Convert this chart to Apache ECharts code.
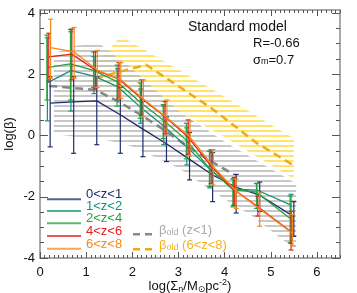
<!DOCTYPE html>
<html><head><meta charset="utf-8">
<script src="https://cdn.jsdelivr.net/npm/echarts@6/dist/echarts.min.js"></script>
<style>html,body{margin:0;padding:0;background:#fff}#c{width:357px;height:293px}</style>
</head><body><div id="c"></div>
<script>
// ---------- data ----------
const zBins = ['0<z<1', '1<z<2', '2<z<4', '4<z<6', '6<z<8'];
const xMajor = [0, 1, 2, 3, 4, 5, 6];
const yMajor = [-4, -2, 0, 2, 4];
const yMinor = [-4, -3.5, -3, -2.5, -2, -1.5, -1, -0.5, 0, 0.5, 1, 1.5, 2, 2.5, 3, 3.5, 4];

const navyX  = [0.22, 0.73, 1.23, 1.74, 2.23, 2.74, 3.24, 3.74, 4.25, 4.76, 5.50];
const navyY  = [1.06, 1.10, 1.13, 0.68, 0.21, -0.27, -0.78, -1.29, -1.69, -1.95, -2.65];
const navyLo = [-0.37, -0.58, -0.30, -0.58, -0.69, -0.85, -1.45, -2.16, -2.53, -2.48, -3.29];
const navyHi = [1.92, 1.92, 1.92, 1.57, 1.11, 0.61, 0.10, -0.56, -1.27, -1.52, -2.16];

const tealX  = [0.16, 0.67, 1.17, 1.68, 2.18, 2.68, 3.18, 3.68, 4.19, 4.70, 5.44];
const tealY  = [1.72, 2.12, 1.94, 1.60, 0.92, 0.31, -0.37, -1.10, -1.75, -1.78, -2.27];
const tealLo = [0.48, 0.80, 1.37, 1.16, 0.40, -0.30, -0.96, -1.71, -2.28, -2.28, -3.53];
const tealHi = [3.19, 3.39, 2.58, 2.18, 1.52, 0.96, 0.25, -0.51, -1.42, -1.56, -1.92];

const greenX  = [0.15, 0.66, 1.16, 1.67, 2.17, 2.67, 3.17, 3.67, 4.18, 4.69, 5.42];
const greenY  = [2.22, 2.34, 2.13, 1.76, 1.09, 0.51, -0.15, -1.07, -1.77, -1.85, -2.71];
const greenLo = [1.16, 1.16, 1.57, 0.96, 0.56, -0.10, -0.76, -1.67, -2.33, -2.38, -3.50];
const greenHi = [3.28, 3.46, 2.73, 2.30, 1.72, 1.01, 0.40, -0.51, -1.42, -1.57, -1.98];

const redX  = [0.19, 0.69, 1.20, 1.71, 2.20, 2.71, 3.21, 3.71, 4.21, 4.72, 5.44];
const redY  = [2.57, 2.66, 2.14, 1.84, 1.21, 0.61, -0.05, -1.01, -1.77, -2.33, -3.14];
const redLo = [1.77, 1.82, 1.54, 1.21, 0.66, 0.05, -0.61, -1.57, -2.28, -2.63, -3.74];
const redHi = [3.34, 3.48, 2.73, 2.38, 1.82, 1.11, 0.51, -0.46, -1.37, -1.98, -2.48];

const orangeX  = [0.23, 0.74, 1.24, 1.75, 2.24, 2.75, 3.25, 3.75, 4.25, 4.76, 5.47];
const orangeY  = [2.87, 2.73, 2.14, 1.82, 1.19, 0.58, -0.05, -1.01, -1.82, -2.40, -3.19];
const orangeLo = [1.87, 1.87, 1.57, 1.21, 0.61, 0.00, -0.66, -1.62, -2.38, -2.96, -3.60];
const orangeHi = [3.80, 3.53, 2.78, 2.38, 1.82, 1.16, 0.46, -0.46, -1.42, -1.88, -2.58];

// beta_old (z<1): dashed line and hatched band
const oldLowX = [0.2, 1.2, 1.7, 2.2, 2.7, 3.2, 3.7, 4.2];
const oldLowY = [1.62, 1.49, 1.11, 0.66, 0.17, -0.36, -0.84, -1.27];
const oldLowBandX  = [0.3, 0.8, 1.3, 2.0, 3.0, 4.0, 4.55, 5.55];
const oldLowBandHi = [2.68, 2.94, 2.99, 2.18, 0.81, -0.20, -0.69, -1.57];
const oldLowBandLo = [0.05, -0.05, -0.10, -0.36, -1.06, -2.08, -2.58, -3.75];

// beta_old (6<z<8)
const oldHighX = [1.2, 2.3, 2.9, 3.7, 4.7, 5.48];
const oldHighY = [1.87, 2.31, 1.71, 0.91, -0.25, -0.96];
const oldHighBandX  = [1.05, 1.75, 2.8, 4.0, 5.5];
const oldHighBandHi = [2.08, 3.24, 2.33, 1.27, -0.10];
const oldHighBandLo = [1.37, 1.52, 0.96, -0.05, -1.42];

// ---------- styling ----------
const FONT = '"Liberation Sans", Arial, "DejaVu Sans", sans-serif';
const cols = ['#1f2c6b', '#169079', '#25a23a', '#e4201c', '#f28a1c'];
const seriesData = [
  [navyX, navyY, navyLo, navyHi],
  [tealX, tealY, tealLo, tealHi],
  [greenX, greenY, greenLo, greenHi],
  [redX, redY, redLo, redHi],
  [orangeX, orangeY, orangeLo, orangeHi]
];

function hatch(color) {
  const c = document.createElement('canvas');
  c.width = 8; c.height = 5;
  const g = c.getContext('2d');
  g.fillStyle = color;
  g.fillRect(0, 0, 8, 2);
  return c;
}

function bandSeries(name, xs, hi, lo, color, z) {
  const data = xs.map((x, i) => [x, lo[i], hi[i]]);
  const pat = hatch(color);
  return {
    type: 'custom', name, silent: true, z, clip: true,
    encode: { x: 0, y: [1, 2] },
    data,
    renderItem: (params, api) => {
      if (params.dataIndex !== 0) return null;
      const pts = [];
      for (let i = 0; i < data.length; i++) pts.push(api.coord([data[i][0], data[i][2]]));
      for (let i = data.length - 1; i >= 0; i--) pts.push(api.coord([data[i][0], data[i][1]]));
      return { type: 'polygon', shape: { points: pts }, style: { fill: { image: pat, repeat: 'repeat' } } };
    }
  };
}

function errSeries(name, xs, lo, hi, color, z) {
  return {
    type: 'custom', name, silent: true, z,
    encode: { x: 0, y: [1, 2] },
    data: xs.map((x, i) => [x, lo[i], hi[i]]),
    renderItem: (params, api) => {
      const x = api.value(0);
      const p1 = api.coord([x, api.value(2)]);
      const p2 = api.coord([x, api.value(1)]);
      const w = 2.5;
      const st = { stroke: color, lineWidth: 1.2 };
      return { type: 'group', children: [
        { type: 'line', shape: { x1: p1[0], y1: p1[1], x2: p2[0], y2: p2[1] }, style: st },
        { type: 'line', shape: { x1: p1[0] - w, y1: p1[1], x2: p1[0] + w, y2: p1[1] }, style: st },
        { type: 'line', shape: { x1: p2[0] - w, y1: p2[1], x2: p2[0] + w, y2: p2[1] }, style: st }
      ] };
    }
  };
}

const series = [
  bandSeries('bandHigh', oldHighBandX, oldHighBandHi, oldHighBandLo, 'rgba(255,222,80,0.85)', 1),
  bandSeries('bandLow', oldLowBandX, oldLowBandHi, oldLowBandLo, 'rgba(190,190,190,0.85)', 2),
  { type: 'line', name: 'oldLow', data: oldLowX.map((x, i) => [x, oldLowY[i]]), symbol: 'none', z: 3,
    lineStyle: { color: '#858585', width: 2.5, type: [8, 5] } },
  { type: 'line', name: 'oldHigh', data: oldHighX.map((x, i) => [x, oldHighY[i]]), symbol: 'none', z: 3,
    lineStyle: { color: '#eeaa1a', width: 2.5, type: [8, 5] } }
];
seriesData.forEach((d, k) => {
  series.push(errSeries(zBins[k] + ' err', d[0], d[2], d[3], cols[k], 5 + k));
  series.push({ type: 'line', name: zBins[k], data: d[0].map((x, i) => [x, d[1][i]]), symbol: 'none', z: 5 + k,
    lineStyle: { color: cols[k], width: 1.3 } });
});

const axLine = { show: true, onZero: false, lineStyle: { color: '#8c8c8c', width: 1.5 } };
const noLine = { show: false, onZero: false };
const tickStyle = { color: '#555', width: 1 };
const baseX = { type: 'value', min: 0, max: 6.5, splitLine: { show: false } };
const baseY = { type: 'value', min: -4, max: 4.1, splitLine: { show: false } };

const option = {
  animation: false,
  grid: { left: 40, right: 17, top: 10, bottom: 35, containLabel: false, outerBoundsMode: 'none' },
  xAxis: [
    Object.assign({}, baseX, { position: 'bottom', interval: 0.1, axisLine: axLine,
      axisTick: { inside: true, length: 3, lineStyle: tickStyle }, axisLabel: { show: false } }),
    Object.assign({}, baseX, { position: 'bottom', axisLine: noLine,
      axisTick: { inside: true, length: 6, customValues: xMajor, lineStyle: tickStyle },
      axisLabel: { customValues: xMajor, margin: 8, fontSize: 13, color: '#111', fontFamily: FONT },
      name: 'log(Σ{sub|n}/M{sub|⊙}pc{sup|-2})', nameLocation: 'middle', nameGap: 20, nameMoveOverlap: false,
      nameTextStyle: { fontSize: 13, color: '#111', fontFamily: FONT, lineHeight: 16,
        rich: { sub: { fontSize: 9, verticalAlign: 'bottom', lineHeight: 9, fontFamily: FONT, color: '#111' },
                sup: { fontSize: 9, verticalAlign: 'top', lineHeight: 9, fontFamily: FONT, color: '#111' } } } }),
    Object.assign({}, baseX, { position: 'top', interval: 0.1, axisLine: axLine,
      axisTick: { inside: true, length: 3, lineStyle: tickStyle }, axisLabel: { show: false } }),
    Object.assign({}, baseX, { position: 'top', axisLine: noLine,
      axisTick: { inside: true, length: 6, customValues: xMajor, lineStyle: tickStyle }, axisLabel: { show: false } })
  ],
  yAxis: [
    Object.assign({}, baseY, { position: 'left', axisLine: axLine,
      axisTick: { inside: true, length: 8, customValues: yMajor, lineStyle: tickStyle },
      axisLabel: { customValues: yMajor, margin: 5, fontSize: 13, color: '#111', fontFamily: FONT },
      name: 'log(β)', nameLocation: 'middle', nameGap: 24, nameMoveOverlap: false,
      nameTextStyle: { fontSize: 13, color: '#111', fontFamily: FONT } }),
    Object.assign({}, baseY, { position: 'left', axisLine: noLine,
      axisTick: { inside: true, length: 4, customValues: yMinor, lineStyle: tickStyle }, axisLabel: { show: false } }),
    Object.assign({}, baseY, { position: 'right', axisLine: axLine,
      axisTick: { inside: true, length: 8, customValues: yMajor, lineStyle: tickStyle }, axisLabel: { show: false } }),
    Object.assign({}, baseY, { position: 'right', axisLine: noLine,
      axisTick: { inside: true, length: 4, customValues: yMinor, lineStyle: tickStyle }, axisLabel: { show: false } })
  ],
  series,
  graphic: []
};

// annotation text
const txt = (x, y, text, size, fill, rich) => ({
  type: 'text', x, y, z: 100, silent: true,
  style: { text, font: size + 'px ' + FONT, fill, align: 'left', verticalAlign: 'middle',
    textAlign: 'left', textVerticalAlign: 'middle', rich }
});
option.graphic.push(txt(188, 27, 'Standard model', 14, '#111'));
option.graphic.push(txt(253, 43, 'R=-0.66', 13, '#111'));
option.graphic.push(txt(253, 60, 'σ{s|m}=0.7', 13, '#111',
  { s: { fontSize: 9, verticalAlign: 'bottom', lineHeight: 8, fontFamily: FONT, fill: '#111', color: '#111' } }));

// legend 1 (z bins)
const legRowsLine = [199.3, 211, 223.3, 236, 248.7];
zBins.forEach((n, k) => {
  option.graphic.push({ type: 'line', silent: true, z: 100,
    shape: { x1: 47, y1: legRowsLine[k], x2: 81, y2: legRowsLine[k] },
    style: { stroke: cols[k], lineWidth: 2, opacity: 0.75 } });
  option.graphic.push(txt(86, legRowsLine[k] - 4.5, n, 13, cols[k]));
});
// legend 2 (beta_old)
const leg2 = [['(z<1)', '#aaaaaa', '#8a8a8a', 234.3], ['(6<z<8)', '#f5b21f', '#eeaa1a', 249.3]];
leg2.forEach(l => {
  option.graphic.push({ type: 'line', silent: true, z: 100,
    shape: { x1: 133, y1: l[3], x2: 156, y2: l[3] },
    style: { stroke: l[2], lineWidth: 2.5, lineDash: [7, 5] } });
  option.graphic.push(txt(159, l[3] - 4, 'β{s|old} ' + l[0], 13, l[1],
    { s: { fontSize: 9, verticalAlign: 'bottom', lineHeight: 8, fontFamily: FONT, fill: l[1], color: l[1] } }));
});

const chart = echarts.init(document.getElementById('c'), null, { renderer: 'canvas' });
chart.setOption(option);
</script></body></html>
